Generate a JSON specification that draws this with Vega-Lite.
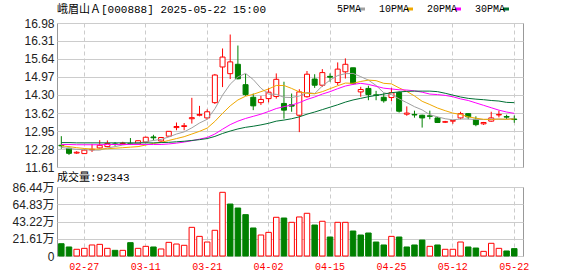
{
  "$schema": "https://vega.github.io/schema/vega-lite/v6.json",
  "padding": {"left": 4, "top": 3, "right": 0, "bottom": 0},
  "background": "#ffffff",
  "config": {
    "view": {"stroke": "#999999", "strokeWidth": 1},
    "axis": {"labelFont": "Liberation Sans, Noto Sans CJK SC", "labelFontSize": 12, "labelColor": "#222222", "ticks": false, "domain": false, "gridColor": "#cccccc", "gridWidth": 1, "title": null, "labelOverlap": false, "labelFlush": false},
    "title": {"font": "Liberation Mono, Noto Sans CJK SC", "fontSize": 11, "fontWeight": "normal", "color": "#000000", "anchor": "start", "frame": "group"}
  },
  "spacing": -3,
  "resolve": {"scale": {"color": "independent"}, "legend": {"color": "independent"}},
  "datasets": {
    "k": [
      {"d": "02-24", "o": 12.42, "h": 12.76, "l": 12.29, "c": 12.40, "v": 15.4, "dir": "down", "vdir": "down", "5PMA": 12.34, "10PMA": 12.40, "20PMA": 12.45, "30PMA": 12.52},
      {"d": "02-25", "o": 12.31, "h": 12.33, "l": 12.06, "c": 12.12, "v": 11.3, "dir": "down", "vdir": "down", "5PMA": 12.30, "10PMA": 12.37, "20PMA": 12.45, "30PMA": 12.52},
      {"d": "02-26", "o": 12.13, "h": 12.20, "l": 12.10, "c": 12.16, "v": 8.4, "dir": "up", "vdir": "up", "5PMA": 12.27, "10PMA": 12.33, "20PMA": 12.44, "30PMA": 12.51},
      {"d": "02-27", "o": 12.11, "h": 12.29, "l": 12.10, "c": 12.24, "v": 9.6, "dir": "up", "vdir": "up", "5PMA": 12.26, "10PMA": 12.30, "20PMA": 12.44, "30PMA": 12.51},
      {"d": "02-28", "o": 12.25, "h": 12.47, "l": 12.17, "c": 12.27, "v": 13.8, "dir": "up", "vdir": "up", "5PMA": 12.24, "10PMA": 12.28, "20PMA": 12.44, "30PMA": 12.51},
      {"d": "03-03", "o": 12.32, "h": 12.61, "l": 12.30, "c": 12.42, "v": 14.6, "dir": "up", "vdir": "up", "5PMA": 12.24, "10PMA": 12.28, "20PMA": 12.44, "30PMA": 12.51},
      {"d": "03-04", "o": 12.37, "h": 12.60, "l": 12.35, "c": 12.49, "v": 9.6, "dir": "up", "vdir": "up", "5PMA": 12.32, "10PMA": 12.29, "20PMA": 12.45, "30PMA": 12.51},
      {"d": "03-05", "o": 12.47, "h": 12.54, "l": 12.40, "c": 12.45, "v": 7.1, "dir": "down", "vdir": "down", "5PMA": 12.37, "10PMA": 12.31, "20PMA": 12.45, "30PMA": 12.51},
      {"d": "03-06", "o": 12.48, "h": 12.55, "l": 12.44, "c": 12.50, "v": 7.1, "dir": "up", "vdir": "up", "5PMA": 12.43, "10PMA": 12.33, "20PMA": 12.45, "30PMA": 12.51},
      {"d": "03-07", "o": 12.49, "h": 12.69, "l": 12.44, "c": 12.47, "v": 16.7, "dir": "down", "vdir": "down", "5PMA": 12.47, "10PMA": 12.35, "20PMA": 12.45, "30PMA": 12.51},
      {"d": "03-10", "o": 12.47, "h": 12.60, "l": 12.45, "c": 12.59, "v": 9.6, "dir": "up", "vdir": "up", "5PMA": 12.50, "10PMA": 12.37, "20PMA": 12.45, "30PMA": 12.51},
      {"d": "03-11", "o": 12.54, "h": 12.74, "l": 12.52, "c": 12.72, "v": 12.1, "dir": "up", "vdir": "up", "5PMA": 12.55, "10PMA": 12.43, "20PMA": 12.45, "30PMA": 12.51},
      {"d": "03-12", "o": 12.73, "h": 12.81, "l": 12.60, "c": 12.70, "v": 11.3, "dir": "down", "vdir": "down", "5PMA": 12.60, "10PMA": 12.49, "20PMA": 12.45, "30PMA": 12.51},
      {"d": "03-13", "o": 12.58, "h": 12.73, "l": 12.55, "c": 12.71, "v": 8.8, "dir": "up", "vdir": "up", "5PMA": 12.64, "10PMA": 12.53, "20PMA": 12.45, "30PMA": 12.52},
      {"d": "03-14", "o": 12.76, "h": 12.95, "l": 12.74, "c": 12.94, "v": 17.1, "dir": "up", "vdir": "up", "5PMA": 12.73, "10PMA": 12.60, "20PMA": 12.47, "30PMA": 12.53},
      {"d": "03-17", "o": 13.08, "h": 13.27, "l": 12.98, "c": 13.12, "v": 15.0, "dir": "up", "vdir": "up", "5PMA": 12.84, "10PMA": 12.67, "20PMA": 12.50, "30PMA": 12.55},
      {"d": "03-18", "o": 13.12, "h": 13.25, "l": 12.98, "c": 13.15, "v": 13.4, "dir": "up", "vdir": "up", "5PMA": 12.92, "10PMA": 12.74, "20PMA": 12.54, "30PMA": 12.57},
      {"d": "03-19", "o": 13.41, "h": 14.19, "l": 13.23, "c": 13.45, "v": 35.9, "dir": "up", "vdir": "up", "5PMA": 13.07, "10PMA": 12.84, "20PMA": 12.59, "30PMA": 12.60},
      {"d": "03-20", "o": 13.54, "h": 13.89, "l": 13.50, "c": 13.57, "v": 24.6, "dir": "up", "vdir": "up", "5PMA": 13.25, "10PMA": 12.94, "20PMA": 12.65, "30PMA": 12.63},
      {"d": "03-21", "o": 13.44, "h": 13.76, "l": 13.38, "c": 13.67, "v": 17.5, "dir": "up", "vdir": "up", "5PMA": 13.39, "10PMA": 13.06, "20PMA": 12.71, "30PMA": 12.67},
      {"d": "03-24", "o": 14.01, "h": 15.08, "l": 13.96, "c": 15.04, "v": 32.2, "dir": "up", "vdir": "up", "5PMA": 13.78, "10PMA": 13.31, "20PMA": 12.84, "30PMA": 12.75},
      {"d": "03-25", "o": 15.34, "h": 16.03, "l": 14.59, "c": 15.71, "v": 79.8, "dir": "up", "vdir": "up", "5PMA": 14.29, "10PMA": 13.61, "20PMA": 13.02, "30PMA": 12.86},
      {"d": "03-26", "o": 15.09, "h": 16.55, "l": 14.89, "c": 15.53, "v": 65.1, "dir": "up", "vdir": "down", "5PMA": 14.70, "10PMA": 13.89, "20PMA": 13.19, "30PMA": 12.95},
      {"d": "03-27", "o": 15.44, "h": 16.14, "l": 14.88, "c": 14.90, "v": 60.1, "dir": "down", "vdir": "down", "5PMA": 14.97, "10PMA": 14.11, "20PMA": 13.32, "30PMA": 13.03},
      {"d": "03-28", "o": 14.68, "h": 15.08, "l": 14.26, "c": 14.31, "v": 51.8, "dir": "down", "vdir": "down", "5PMA": 15.10, "10PMA": 14.25, "20PMA": 13.42, "30PMA": 13.09},
      {"d": "03-31", "o": 14.21, "h": 14.35, "l": 13.73, "c": 13.89, "v": 35.1, "dir": "down", "vdir": "down", "5PMA": 14.87, "10PMA": 14.32, "20PMA": 13.50, "30PMA": 13.13},
      {"d": "04-01", "o": 14.01, "h": 14.26, "l": 13.92, "c": 14.13, "v": 26.3, "dir": "up", "vdir": "up", "5PMA": 14.55, "10PMA": 14.42, "20PMA": 13.58, "30PMA": 13.18},
      {"d": "04-02", "o": 14.16, "h": 14.55, "l": 14.02, "c": 14.40, "v": 29.6, "dir": "up", "vdir": "up", "5PMA": 14.33, "10PMA": 14.52, "20PMA": 13.68, "30PMA": 13.24},
      {"d": "04-03", "o": 14.24, "h": 15.10, "l": 14.16, "c": 14.88, "v": 48.5, "dir": "up", "vdir": "up", "5PMA": 14.32, "10PMA": 14.65, "20PMA": 13.79, "30PMA": 13.32},
      {"d": "04-07", "o": 13.98, "h": 14.79, "l": 13.41, "c": 13.73, "v": 47.6, "dir": "down", "vdir": "down", "5PMA": 14.21, "10PMA": 14.65, "20PMA": 13.86, "30PMA": 13.36},
      {"d": "04-08", "o": 13.93, "h": 14.35, "l": 13.67, "c": 13.88, "v": 42.2, "dir": "down", "vdir": "up", "5PMA": 14.20, "10PMA": 14.54, "20PMA": 13.92, "30PMA": 13.41},
      {"d": "04-09", "o": 13.54, "h": 14.51, "l": 12.91, "c": 14.41, "v": 48.9, "dir": "up", "vdir": "up", "5PMA": 14.26, "10PMA": 14.41, "20PMA": 14.01, "30PMA": 13.48},
      {"d": "04-10", "o": 14.23, "h": 15.19, "l": 14.20, "c": 15.07, "v": 53.5, "dir": "up", "vdir": "up", "5PMA": 14.39, "10PMA": 14.36, "20PMA": 14.13, "30PMA": 13.58},
      {"d": "04-11", "o": 14.89, "h": 15.07, "l": 14.56, "c": 14.66, "v": 38.8, "dir": "down", "vdir": "down", "5PMA": 14.35, "10PMA": 14.34, "20PMA": 14.22, "30PMA": 13.66},
      {"d": "04-14", "o": 14.66, "h": 15.26, "l": 14.60, "c": 15.13, "v": 43.5, "dir": "up", "vdir": "up", "5PMA": 14.63, "10PMA": 14.42, "20PMA": 14.33, "30PMA": 13.75},
      {"d": "04-15", "o": 14.99, "h": 15.10, "l": 14.79, "c": 14.96, "v": 23.8, "dir": "down", "vdir": "down", "5PMA": 14.85, "10PMA": 14.53, "20PMA": 14.42, "30PMA": 13.84},
      {"d": "04-16", "o": 14.76, "h": 15.51, "l": 14.66, "c": 15.26, "v": 42.2, "dir": "up", "vdir": "up", "5PMA": 15.02, "10PMA": 14.64, "20PMA": 14.53, "30PMA": 13.93},
      {"d": "04-17", "o": 15.16, "h": 15.66, "l": 14.91, "c": 15.44, "v": 42.2, "dir": "up", "vdir": "up", "5PMA": 15.09, "10PMA": 14.74, "20PMA": 14.63, "30PMA": 14.03},
      {"d": "04-18", "o": 15.31, "h": 15.31, "l": 14.68, "c": 14.72, "v": 31.3, "dir": "down", "vdir": "down", "5PMA": 15.10, "10PMA": 14.73, "20PMA": 14.69, "30PMA": 14.11},
      {"d": "04-21", "o": 14.41, "h": 14.60, "l": 14.23, "c": 14.50, "v": 26.3, "dir": "up", "vdir": "down", "5PMA": 14.98, "10PMA": 14.80, "20PMA": 14.73, "30PMA": 14.17},
      {"d": "04-22", "o": 14.54, "h": 14.64, "l": 14.10, "c": 14.31, "v": 28.8, "dir": "down", "vdir": "down", "5PMA": 14.85, "10PMA": 14.85, "20PMA": 14.69, "30PMA": 14.23},
      {"d": "04-23", "o": 14.30, "h": 14.45, "l": 14.10, "c": 14.28, "v": 17.5, "dir": "down", "vdir": "down", "5PMA": 14.65, "10PMA": 14.83, "20PMA": 14.62, "30PMA": 14.28},
      {"d": "04-24", "o": 14.21, "h": 14.36, "l": 14.01, "c": 14.08, "v": 13.8, "dir": "down", "vdir": "down", "5PMA": 14.38, "10PMA": 14.73, "20PMA": 14.55, "30PMA": 14.33},
      {"d": "04-25", "o": 14.20, "h": 14.56, "l": 14.07, "c": 14.38, "v": 24.6, "dir": "up", "vdir": "up", "5PMA": 14.31, "10PMA": 14.71, "20PMA": 14.52, "30PMA": 14.38},
      {"d": "04-28", "o": 14.39, "h": 14.43, "l": 13.64, "c": 13.69, "v": 23.8, "dir": "down", "vdir": "down", "5PMA": 14.15, "10PMA": 14.56, "20PMA": 14.49, "30PMA": 14.41},
      {"d": "04-29", "o": 13.58, "h": 13.87, "l": 13.52, "c": 13.62, "v": 11.3, "dir": "up", "vdir": "down", "5PMA": 14.01, "10PMA": 14.43, "20PMA": 14.48, "30PMA": 14.43},
      {"d": "04-30", "o": 13.57, "h": 13.71, "l": 13.45, "c": 13.55, "v": 13.8, "dir": "down", "vdir": "down", "5PMA": 13.86, "10PMA": 14.26, "20PMA": 14.45, "30PMA": 14.44},
      {"d": "05-06", "o": 13.54, "h": 13.56, "l": 13.08, "c": 13.44, "v": 20.0, "dir": "down", "vdir": "down", "5PMA": 13.74, "10PMA": 14.06, "20PMA": 14.40, "30PMA": 14.44},
      {"d": "05-07", "o": 13.52, "h": 13.71, "l": 13.39, "c": 13.50, "v": 12.1, "dir": "down", "vdir": "up", "5PMA": 13.56, "10PMA": 13.94, "20PMA": 14.33, "30PMA": 14.44},
      {"d": "05-08", "o": 13.44, "h": 13.48, "l": 13.25, "c": 13.27, "v": 13.8, "dir": "down", "vdir": "down", "5PMA": 13.48, "10PMA": 13.81, "20PMA": 14.31, "30PMA": 14.42},
      {"d": "05-09", "o": 13.28, "h": 13.33, "l": 13.25, "c": 13.30, "v": 8.4, "dir": "up", "vdir": "up", "5PMA": 13.41, "10PMA": 13.71, "20PMA": 14.28, "30PMA": 14.36},
      {"d": "05-12", "o": 13.32, "h": 13.34, "l": 13.22, "c": 13.34, "v": 8.4, "dir": "up", "vdir": "up", "5PMA": 13.37, "10PMA": 13.62, "20PMA": 14.23, "30PMA": 14.29},
      {"d": "05-13", "o": 13.44, "h": 13.67, "l": 13.39, "c": 13.60, "v": 17.5, "dir": "up", "vdir": "up", "5PMA": 13.40, "10PMA": 13.57, "20PMA": 14.15, "30PMA": 14.22},
      {"d": "05-14", "o": 13.60, "h": 13.62, "l": 13.39, "c": 13.48, "v": 11.3, "dir": "down", "vdir": "down", "5PMA": 13.40, "10PMA": 13.48, "20PMA": 14.09, "30PMA": 14.17},
      {"d": "05-15", "o": 13.39, "h": 13.50, "l": 13.13, "c": 13.19, "v": 10.0, "dir": "down", "vdir": "down", "5PMA": 13.38, "10PMA": 13.43, "20PMA": 14.00, "30PMA": 14.14},
      {"d": "05-16", "o": 13.22, "h": 13.29, "l": 13.18, "c": 13.27, "v": 5.8, "dir": "up", "vdir": "up", "5PMA": 13.38, "10PMA": 13.39, "20PMA": 13.91, "30PMA": 14.12},
      {"d": "05-19", "o": 13.32, "h": 13.67, "l": 13.30, "c": 13.44, "v": 15.9, "dir": "up", "vdir": "up", "5PMA": 13.40, "10PMA": 13.38, "20PMA": 13.82, "30PMA": 14.09},
      {"d": "05-20", "o": 13.55, "h": 13.71, "l": 13.46, "c": 13.57, "v": 9.6, "dir": "up", "vdir": "up", "5PMA": 13.39, "10PMA": 13.40, "20PMA": 13.73, "30PMA": 14.07},
      {"d": "05-21", "o": 13.49, "h": 13.56, "l": 13.40, "c": 13.47, "v": 6.3, "dir": "down", "vdir": "down", "5PMA": 13.39, "10PMA": 13.39, "20PMA": 13.66, "30PMA": 14.02},
      {"d": "05-22", "o": 13.40, "h": 13.53, "l": 13.26, "c": 13.38, "v": 9.2343, "dir": "down", "vdir": "down", "5PMA": 13.43, "10PMA": 13.40, "20PMA": 13.61, "30PMA": 14.01}
    ]
  },
  "vconcat": [
    {
      "width": 466,
      "height": 144,
      "title": {"text": "峨眉山Ａ[000888] 2025-05-22 15:00", "offset": -11},
      "data": {"name": "k"},
      "encoding": {
        "x": {"field": "d", "type": "ordinal", "sort": null,
          "scale": {"paddingInner": 0, "paddingOuter": 0.35, "align": 0.09},
          "axis": {"values": ["02-27", "03-11", "03-21", "04-02", "04-15", "04-25", "05-12", "05-22"], "labels": false, "labelPadding": 0, "minExtent": 0, "maxExtent": 0, "grid": true, "gridDash": [4, 3], "gridColor": "#cccccc"}},
        "y": {"field": "l", "type": "quantitative",
          "scale": {"domain": [11.61, 16.98], "nice": false, "zero": false},
          "axis": {"values": [11.61, 12.28, 12.95, 13.62, 14.30, 14.97, 15.64, 16.31, 16.98], "format": ".2f", "grid": true, "labelOverlap": false, "labelFlush": false, "labelPadding": 3, "minExtent": 52, "maxExtent": 52}}
      },
      "layer": [
        {
          "mark": {"type": "rule", "strokeWidth": 1},
          "encoding": {
            "y2": {"field": "h"},
            "stroke": {"field": "dir", "type": "nominal", "scale": {"domain": ["up", "down"], "range": ["#ff0000", "#008000"]}, "legend": null}
          }
        },
        {
          "mark": {"type": "bar", "size": 5, "strokeWidth": 1},
          "encoding": {
            "y": {"field": "o", "type": "quantitative"},
            "y2": {"field": "c"},
            "stroke": {"field": "dir", "type": "nominal", "legend": null},
            "fill": {"field": "dir", "type": "nominal", "scale": {"domain": ["up", "down"], "range": ["#ffffff", "#008000"]}, "legend": null}
          }
        },
        {
          "transform": [{"fold": ["5PMA", "10PMA", "20PMA", "30PMA"], "as": ["ma", "val"]}],
          "mark": {"type": "line", "strokeWidth": 1},
          "encoding": {
            "y": {"field": "val", "type": "quantitative"},
            "color": {"field": "ma", "type": "nominal",
              "scale": {"domain": ["5PMA", "10PMA", "20PMA", "30PMA"], "range": ["#a0a0a0", "#f0a800", "#ff00ff", "#007034"]},
              "legend": {"orient": "none", "legendX": 300, "legendY": -19, "direction": "horizontal", "title": null,
                "symbolType": "stroke", "symbolSize": 36, "symbolStrokeWidth": 3,
                "labelFont": "Liberation Mono", "labelFontSize": 10, "labelColor": "#000000",
                "labelAlign": "right", "labelOffset": -6, "columnPadding": 7}}
          }
        }
      ]
    },
    {
      "width": 466,
      "height": 69,
      "title": {"text": "成交量:92343", "offset": -2},
      "data": {"name": "k"},
      "encoding": {
        "x": {"field": "d", "type": "ordinal", "sort": null,
          "scale": {"paddingInner": 0, "paddingOuter": 0.35, "align": 0.09},
          "axis": {"values": ["02-27", "03-11", "03-21", "04-02", "04-15", "04-25", "05-12", "05-22"], "labelAngle": 0, "labelColor": "#ff0000", "labelFont": "Liberation Mono", "labelFontSize": 10, "labelPadding": 5, "grid": true, "gridDash": [4, 3], "gridColor": "#cccccc"}}
      },
      "layer": [
        {
          "mark": {"type": "bar", "size": 5.5, "strokeWidth": 1},
          "encoding": {
            "y": {"field": "v", "type": "quantitative",
              "scale": {"domain": [0, 86.44], "nice": false},
              "axis": {"values": [0, 21.61, 43.22, 64.83, 86.44], "labelExpr": "datum.value == 0 ? '0' : format(datum.value, '.2f') + '万'", "grid": true, "labelOverlap": false, "labelPadding": 3, "minExtent": 52, "maxExtent": 52}},
            "stroke": {"field": "vdir", "type": "nominal", "scale": {"domain": ["up", "down"], "range": ["#ff0000", "#008000"]}, "legend": null},
            "fill": {"field": "vdir", "type": "nominal", "scale": {"domain": ["up", "down"], "range": ["#ffffff", "#008000"]}, "legend": null}
          }
        }
      ]
    }
  ]
}
